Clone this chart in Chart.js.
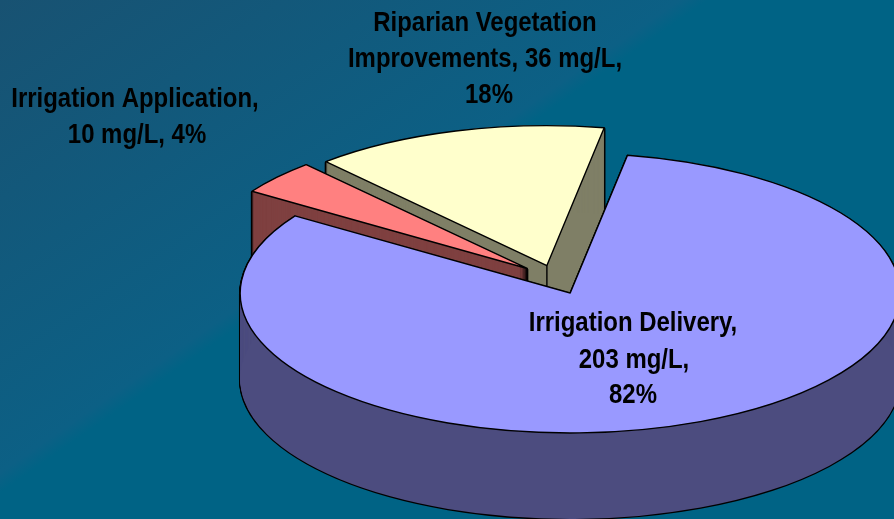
<!DOCTYPE html>
<html><head><meta charset="utf-8">
<style>html,body{margin:0;padding:0;background:#006080;overflow:hidden}canvas{display:block}</style>
<script src="https://cdn.jsdelivr.net/npm/chart.js@4/dist/chart.umd.js"></script>
</head><body><canvas id="c" width="894" height="519"></canvas>
<script>
const categories = ["Irrigation Delivery", "Irrigation Application", "Riparian Vegetation Improvements"];
const values = [203, 10, 36];
const topColors = ["#9999FF", "#FF8080", "#FFFFCC"];
const wallColors = ["#4C4C7F", "#7F4040", "#7F7F66"];
const explode = [36, 38, 33];
const drawOrder = [2, 1, 0];
const labelLines = [
  {lines:["Irrigation Delivery,","203 mg/L,","82%"], x:[633,634,633], y:[323,360,395]},
  {lines:["Irrigation Application,","10 mg/L, 4%"], x:[135,137], y:[99,135]},
  {lines:["Riparian Vegetation","Improvements, 36 mg/L,","18%"], x:[485,485,489], y:[23,59,95]}
];
const centerX = 556, centerY = 279, tilt = 0.424, depth = 86, pieRadius = 330, startRotation = 10;
const fontPx = 28, textSqueeze = 0.855;

function plainOpts(fill, stroke, width){
  return {backgroundColor:fill, borderColor:stroke, borderWidth:width, borderAlign:'center',
    offset:0, spacing:0, borderRadius:0, circular:true, borderJoinStyle:'round',
    borderDash:[], borderDashOffset:0, selfJoin:false};
}
function uniformStroke(ctx){
  const orig = ctx.stroke;
  ctx.stroke = function(){
    const t = ctx.getTransform();
    ctx.setTransform(1,0,0,1,0,0);
    orig.apply(ctx, arguments);
    ctx.setTransform(t);
  };
  return ()=>{ delete ctx.stroke; };
}
const pie3d = {
  id:'pie3d',
  beforeDraw(chart){
    const {ctx,width,height} = chart;
    const g = ctx.createLinearGradient(0,0,231,332);
    g.addColorStop(0,'#185272');
    g.addColorStop(0.96,'#0C6085');
    g.addColorStop(1,'#006385');
    ctx.save(); ctx.fillStyle=g; ctx.fillRect(0,0,width,height); ctx.restore();
  },
  beforeDatasetDraw(chart,args){
    const ctx = chart.ctx;
    const restoreStroke = uniformStroke(ctx);
    const arcs = args.meta.data;
    drawOrder.forEach(i=>{
      const arc = arcs[i];
      const mid = (arc.startAngle+arc.endAngle)/2;
      const ox = centerX + Math.cos(mid)*explode[i];
      const oy = centerY + Math.sin(mid)*explode[i]*tilt;
      const place = d=>{ ctx.translate(ox, oy+d); ctx.scale(1,tilt); ctx.translate(-arc.x,-arc.y); };
      const saved = arc.options;
      // black silhouette of the wall
      arc.options = plainOpts('#000','#000',2.4);
      for(let d=1;d<=depth;d++){ ctx.save(); place(d); arc.draw(ctx); ctx.restore(); }
      // wall fill
      arc.options = plainOpts(wallColors[i],wallColors[i],0);
      for(let d=0;d<=depth;d++){ ctx.save(); place(d); arc.draw(ctx); ctx.restore(); }
      // vertical edge at the slice's apex
      ctx.save();
      ctx.strokeStyle='#000'; ctx.lineWidth=1.4;
      ctx.beginPath();ctx.moveTo(ox,oy);ctx.lineTo(ox,oy+depth);ctx.stroke();
      ctx.restore();
      // top face
      arc.options = plainOpts(topColors[i],'#000',1.4);
      ctx.save(); place(0); arc.draw(ctx); ctx.restore();
      arc.options = saved;
    });
    restoreStroke();
    return false;
  },
  afterDraw(chart){
    const ctx = chart.ctx;
    ctx.save();
    ctx.fillStyle='#000';
    ctx.font='bold '+fontPx+'px "Liberation Sans"';
    ctx.textAlign='center'; ctx.textBaseline='middle';
    labelLines.forEach(l=>l.lines.forEach((t,j)=>{
      ctx.save();
      ctx.translate(l.x[j],l.y[j]);
      ctx.scale(textSqueeze,1);
      ctx.fillText(t,0,0);
      ctx.restore();
    }));
    ctx.restore();
  }
};
new Chart(document.getElementById('c'),{
  type:'pie',
  data:{labels:categories,datasets:[{data:values,backgroundColor:topColors,borderColor:'#000',borderWidth:1}]},
  options:{responsive:false,animation:false,radius:pieRadius,rotation:startRotation,
    plugins:{legend:{display:false},tooltip:{enabled:false}},events:[]},
  plugins:[pie3d]
});
</script></body></html>
